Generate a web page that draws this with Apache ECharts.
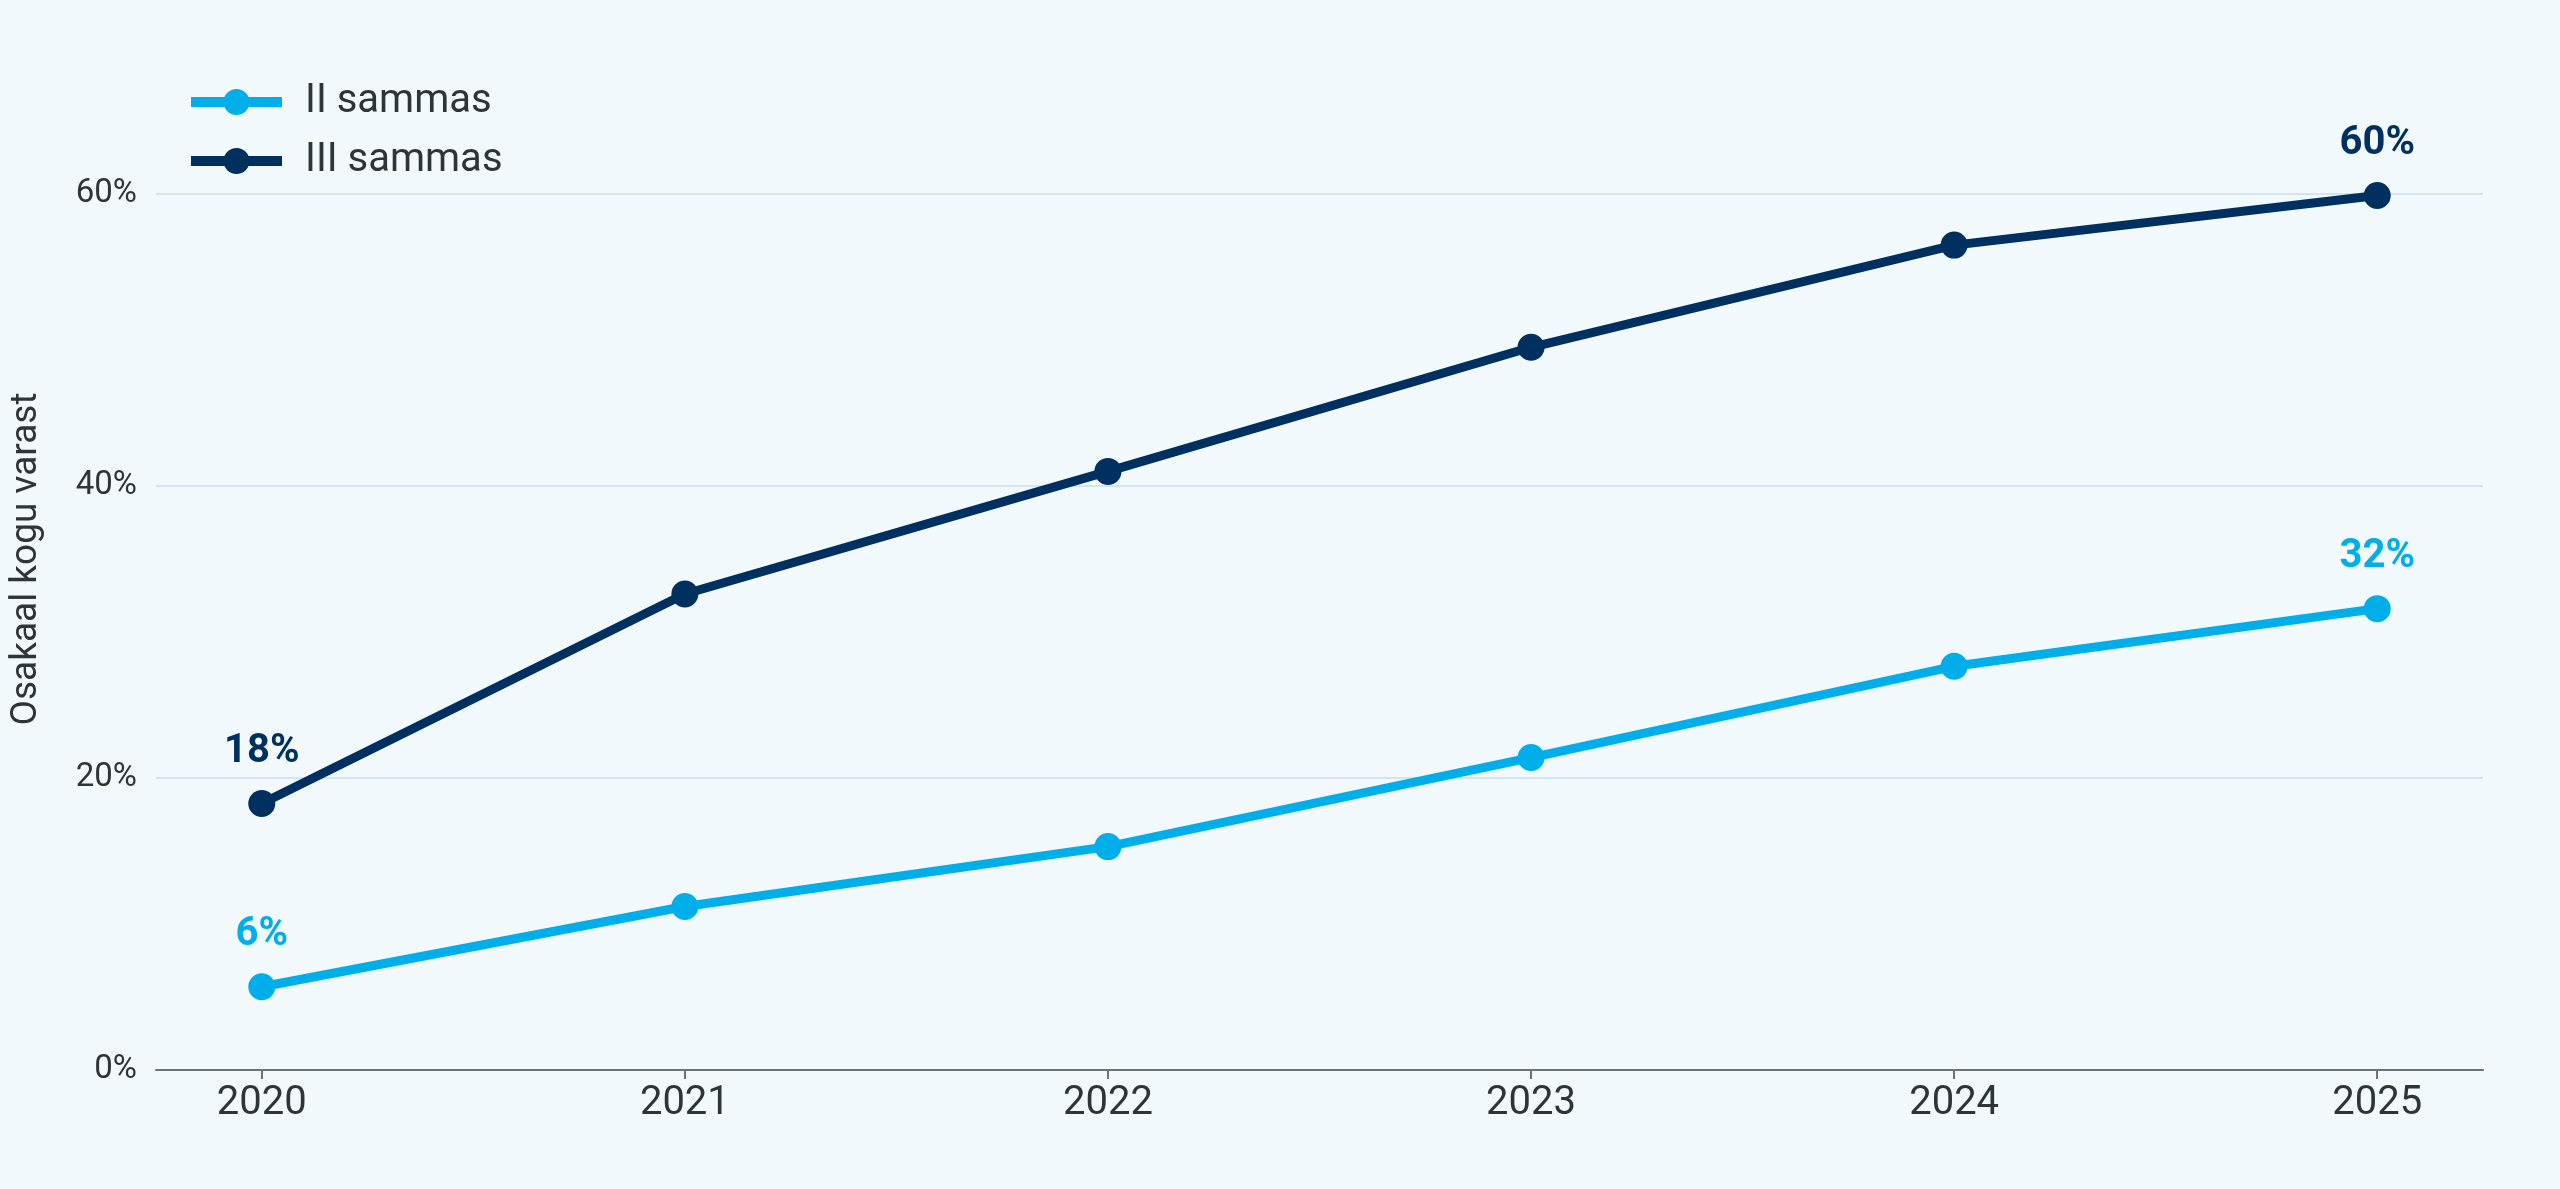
<!DOCTYPE html>
<html>
<head>
<meta charset="utf-8">
<script src="https://cdn.jsdelivr.net/npm/echarts@6/dist/echarts.min.js"></script>
<style>
    html, body { margin: 0; padding: 0; background: #f2f9fd; }
    #chart { width: 2560px; height: 1189px; }
</style>
</head>
<body>
<div id="chart"></div>
<script>
    // andmed
    const years = [2020, 2021, 2022, 2023, 2024, 2025];
    const seriesNames = ['II sammas', 'III sammas'];
    const teineSammas = [5.7, 11.2, 15.3, 21.4, 27.65, 31.6];
    const kolmasSammas = [18.25, 32.6, 41.0, 49.5, 56.5, 59.9];
    const yTicks = [0, 20, 40, 60];
    const yName = 'Osakaal kogu varast';

    const colors = ['#00aeea', '#00305f'];
    const textColor = '#2e3439';

    // silt ainult esimesel ja viimasel punktil
    function makeData(values) {
        return values.map((v, i) => ({
            value: [years[i], v],
            label: { show: i === 0 || i === values.length - 1 }
        }));
    }

    function makeSeries(name, values, color) {
        return {
            name: name,
            type: 'line',
            data: makeData(values),
            symbol: 'circle',
            symbolSize: 27,
            lineStyle: { width: 9, color: color },
            itemStyle: { color: color },
            label: {
                position: 'top',
                distance: 18,
                color: color,
                fontFamily: 'Roboto',
                fontWeight: 'bold',
                fontSize: 40,
                formatter: (p) => Math.round(p.value[1]) + '%'
            },
            emphasis: { disabled: true }
        };
    }

    const chart = echarts.init(document.getElementById('chart'));

    const option = {
        backgroundColor: '#f2f9fd',
        animation: false,
        color: colors,
        textStyle: { fontFamily: 'Roboto' },
        grid: {
            left: 153,
            right: 77,
            top: 48,
            bottom: 119,
            containLabel: false
        },
        legend: {
            data: seriesNames,
            orient: 'vertical',
            left: 186,
            top: 82,
            padding: 0,
            itemWidth: 91,
            itemHeight: 32.5,
            itemGap: 19,
            lineStyle: { width: 10 },
            textStyle: {
                fontFamily: 'Roboto',
                fontSize: 40,
                lineHeight: 40,
                color: textColor,
                padding: [0, 0, 0, 18]
            }
        },
        xAxis: {
            type: 'value',
            min: 2019.75,
            max: 2025.25,
            axisLine: { lineStyle: { color: '#6c7277', width: 2 } },
            axisTick: {
                show: true,
                customValues: years,
                length: 9,
                lineStyle: { color: '#6c7277', width: 2 }
            },
            axisLabel: {
                customValues: years,
                formatter: (v) => String(v),
                fontSize: 40,
                color: textColor,
                margin: 14
            },
            splitLine: { show: false }
        },
        yAxis: {
            type: 'value',
            min: yTicks[0],
            max: 70,
            interval: 20,
            name: yName,
            nameLocation: 'middle',
            nameGap: 111,
            nameTextStyle: { fontSize: 37, color: textColor },
            axisLine: { show: false },
            axisTick: { show: false },
            axisLabel: {
                formatter: '{value}%',
                fontSize: 33,
                color: textColor,
                margin: 19,
                showMaxLabel: false
            },
            splitLine: {
                showMaxLine: false,
                lineStyle: { color: '#d3e5f2', width: 2 }
            }
        },
        series: [
            makeSeries(seriesNames[0], teineSammas, colors[0]),
            makeSeries(seriesNames[1], kolmasSammas, colors[1])
        ]
    };

    chart.setOption(option);
</script>
</body>
</html>
